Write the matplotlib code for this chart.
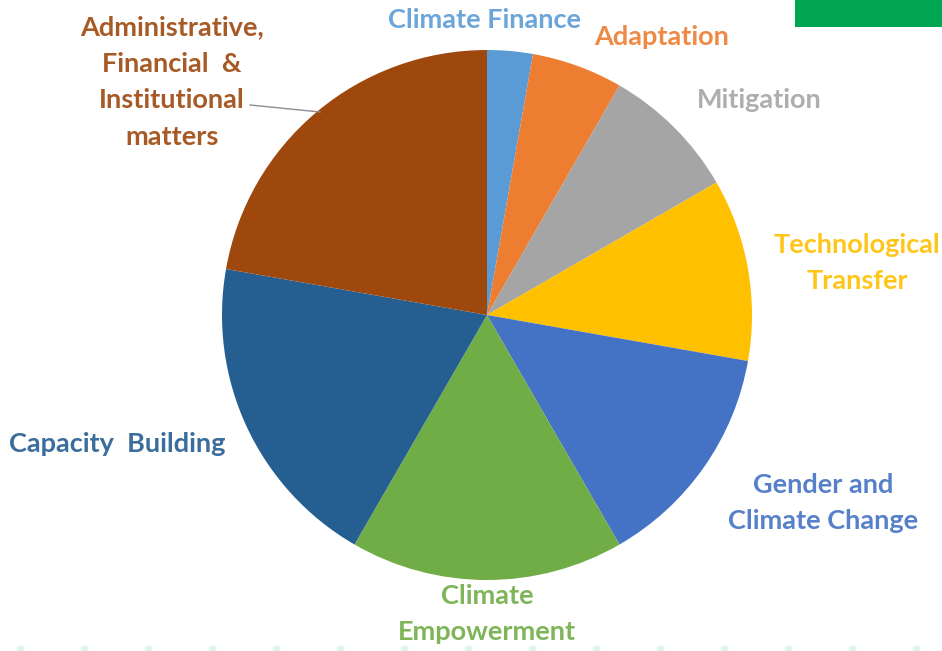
import matplotlib.pyplot as plt
from matplotlib.patches import Rectangle

# topic shares
topics = ["Climate Finance", "Adaptation", "Mitigation", "Technological\nTransfer",
          "Gender and\nClimate Change", "Climate\nEmpowerment", "Capacity  Building",
          "Administrative,\nFinancial  &\nInstitutional\nmatters"]
shares = [1, 2, 3, 4, 5, 6, 7, 8]
colors = ["#5B9BD5", "#ED7D31", "#A5A5A5", "#FFC000",
          "#4472C4", "#70AD47", "#255E91", "#9E480E"]

# label centres in pixel coords (y from top)
label_pos = [(484, 20), (662, 37), (759, 100), (857, 263),
             (823, 503), (487, 614), (117, 444), (172, 82)]

W, H = 942, 651
fig = plt.figure(figsize=(W / 100, H / 100), dpi=100)
ax = fig.add_axes([0, 0, 1, 1])

cx, cy, r = 487, H - 315, 265
ax.pie(shares, colors=colors, startangle=90, counterclock=False,
       center=(cx, cy), radius=r, frame=True,
       wedgeprops=dict(linewidth=0))
ax.set_xlim(0, W)
ax.set_ylim(0, H)
ax.set_aspect("equal")
ax.axis("off")

for txt, (x, y), c in zip(topics, label_pos, colors):
    ax.text(x, H - y, txt, color=c, ha="center", va="center",
            fontsize=19.5, fontweight="bold", family="Lato",
            linespacing=1.62, alpha=0.9)

# leader line for the admin label
ax.plot([250, 320], [H - 105, H - 112], color="#8c8c8c", lw=1)

# green box top right
ax.add_patch(Rectangle((795, H - 27), W - 795, 27, color="#00A651", lw=0))

# faint strip at the bottom
xs = list(range(20, W, 64))
ax.plot(xs, [2] * len(xs), ls="none", marker="s", ms=4, color="#e2f4ef")

fig.savefig("out.png", dpi=100)
